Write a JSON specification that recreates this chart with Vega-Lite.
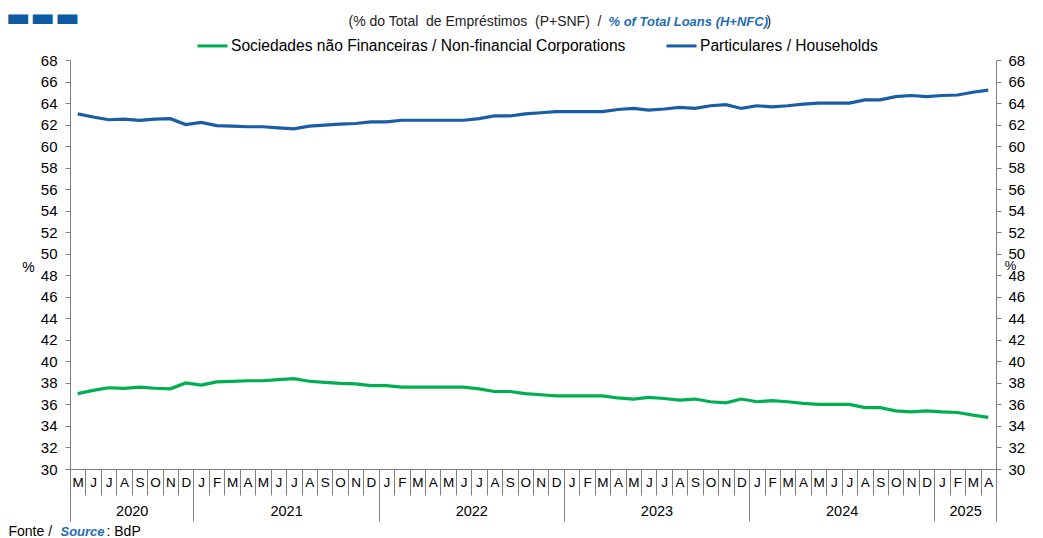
{
  "$schema": "https://vega.github.io/schema/vega-lite/v6.json",
  "width": 926,
  "height": 409,
  "autosize": {"type": "none"},
  "padding": {"left": 70, "top": 60, "right": 47, "bottom": 69},
  "background": "white",
  "title": {"text": "▬▬▬", "anchor": "start", "frame": "group", "orient": "top", "offset": 0, "dx": -64, "dy": 17, "fontSize": 26, "font": "DejaVu Sans", "color": "#0B5AA2", "fontWeight": "normal"},
  "datasets": {
    "loans": [
      {"month": "2020-05", "hh": 63.0, "nfc": 37.0},
      {"month": "2020-06", "hh": 62.7, "nfc": 37.3},
      {"month": "2020-07", "hh": 62.45, "nfc": 37.55},
      {"month": "2020-08", "hh": 62.5, "nfc": 37.5},
      {"month": "2020-09", "hh": 62.4, "nfc": 37.6},
      {"month": "2020-10", "hh": 62.5, "nfc": 37.5},
      {"month": "2020-11", "hh": 62.55, "nfc": 37.45},
      {"month": "2020-12", "hh": 62.0, "nfc": 38.0},
      {"month": "2021-01", "hh": 62.2, "nfc": 37.8},
      {"month": "2021-02", "hh": 61.9, "nfc": 38.1},
      {"month": "2021-03", "hh": 61.85, "nfc": 38.15},
      {"month": "2021-04", "hh": 61.8, "nfc": 38.2},
      {"month": "2021-05", "hh": 61.8, "nfc": 38.2},
      {"month": "2021-06", "hh": 61.7, "nfc": 38.3},
      {"month": "2021-07", "hh": 61.6, "nfc": 38.4},
      {"month": "2021-08", "hh": 61.85, "nfc": 38.15},
      {"month": "2021-09", "hh": 61.95, "nfc": 38.05},
      {"month": "2021-10", "hh": 62.05, "nfc": 37.95},
      {"month": "2021-11", "hh": 62.1, "nfc": 37.9},
      {"month": "2021-12", "hh": 62.25, "nfc": 37.75},
      {"month": "2022-01", "hh": 62.25, "nfc": 37.75},
      {"month": "2022-02", "hh": 62.4, "nfc": 37.6},
      {"month": "2022-03", "hh": 62.4, "nfc": 37.6},
      {"month": "2022-04", "hh": 62.4, "nfc": 37.6},
      {"month": "2022-05", "hh": 62.4, "nfc": 37.6},
      {"month": "2022-06", "hh": 62.4, "nfc": 37.6},
      {"month": "2022-07", "hh": 62.55, "nfc": 37.45},
      {"month": "2022-08", "hh": 62.8, "nfc": 37.2},
      {"month": "2022-09", "hh": 62.8, "nfc": 37.2},
      {"month": "2022-10", "hh": 63.0, "nfc": 37.0},
      {"month": "2022-11", "hh": 63.1, "nfc": 36.9},
      {"month": "2022-12", "hh": 63.2, "nfc": 36.8},
      {"month": "2023-01", "hh": 63.2, "nfc": 36.8},
      {"month": "2023-02", "hh": 63.2, "nfc": 36.8},
      {"month": "2023-03", "hh": 63.2, "nfc": 36.8},
      {"month": "2023-04", "hh": 63.4, "nfc": 36.6},
      {"month": "2023-05", "hh": 63.5, "nfc": 36.5},
      {"month": "2023-06", "hh": 63.35, "nfc": 36.65},
      {"month": "2023-07", "hh": 63.45, "nfc": 36.55},
      {"month": "2023-08", "hh": 63.6, "nfc": 36.4},
      {"month": "2023-09", "hh": 63.5, "nfc": 36.5},
      {"month": "2023-10", "hh": 63.75, "nfc": 36.25},
      {"month": "2023-11", "hh": 63.85, "nfc": 36.15},
      {"month": "2023-12", "hh": 63.5, "nfc": 36.5},
      {"month": "2024-01", "hh": 63.75, "nfc": 36.25},
      {"month": "2024-02", "hh": 63.65, "nfc": 36.35},
      {"month": "2024-03", "hh": 63.75, "nfc": 36.25},
      {"month": "2024-04", "hh": 63.9, "nfc": 36.1},
      {"month": "2024-05", "hh": 64.0, "nfc": 36.0},
      {"month": "2024-06", "hh": 64.0, "nfc": 36.0},
      {"month": "2024-07", "hh": 64.0, "nfc": 36.0},
      {"month": "2024-08", "hh": 64.3, "nfc": 35.7},
      {"month": "2024-09", "hh": 64.3, "nfc": 35.7},
      {"month": "2024-10", "hh": 64.6, "nfc": 35.4},
      {"month": "2024-11", "hh": 64.7, "nfc": 35.3},
      {"month": "2024-12", "hh": 64.6, "nfc": 35.4},
      {"month": "2025-01", "hh": 64.7, "nfc": 35.3},
      {"month": "2025-02", "hh": 64.75, "nfc": 35.25},
      {"month": "2025-03", "hh": 65.0, "nfc": 35.0},
      {"month": "2025-04", "hh": 65.2, "nfc": 34.8}
    ],
    "years": [
      {"year": "2020", "start": 0, "mid": 4},
      {"year": "2021", "start": 8, "mid": 14},
      {"year": "2022", "start": 20, "mid": 26},
      {"year": "2023", "start": 32, "mid": 38},
      {"year": "2024", "start": 44, "mid": 50},
      {"year": "2025", "start": 56, "mid": 58}
    ]
  },
  "layer": [
    {
      "data": {"name": "loans"},
      "transform": [{"fold": ["nfc", "hh"], "as": ["series", "value"]}],
      "mark": {"type": "line", "strokeWidth": 3.2},
      "encoding": {
        "x": {
          "field": "month", "type": "ordinal", "bandPosition": 0.5,
          "scale": {"type": "band", "paddingInner": 0, "paddingOuter": 0},
          "axis": {
            "orient": "bottom", "tickBand": "extent", "tickSize": 26, "tickColor": "#808080", "domainColor": "#808080",
            "labelExpr": "isString(datum.value) ? ['J','F','M','A','M','J','J','A','S','O','N','D'][toNumber(substring(datum.value,5,7))-1] : ''",
            "labelAngle": 0, "labelBaseline": "middle", "labelAlign": "center", "labelPadding": -13, "labelFontSize": 13.5, "labelOverlap": false,
            "title": "Fonte /", "titleX": -62, "titleY": 62, "titleAlign": "left", "titleBaseline": "middle", "titleFontSize": 14
          }
        },
        "y": {
          "field": "value", "type": "quantitative",
          "scale": {"domain": [30, 68], "nice": false},
          "axis": {
            "orient": "left", "values": [30,32,34,36,38,40,42,44,46,48,50,52,54,56,58,60,62,64,66,68],
            "tickSize": 5, "labelPadding": 8, "labelFontSize": 15,
            "title": "%", "titleAngle": 0, "titleX": -42, "titleY": 207, "titleAlign": "center", "titleBaseline": "middle", "titleFontSize": 14
          }
        },
        "color": {
          "field": "series", "type": "nominal",
          "scale": {"domain": ["nfc", "hh"], "range": ["#00B050", "#1A5DA6"]},
          "legend": {
            "orient": "none", "legendX": 126, "legendY": -31, "direction": "horizontal", "columns": 2, "title": null,
            "symbolType": "stroke", "symbolSize": 900, "symbolStrokeWidth": 3, "labelFontSize": 15.6, "labelColor": "#000",
            "labelOffset": 2, "columnPadding": 34, "labelLimit": 600,
            "labelExpr": "datum.value === 'nfc' ? 'Sociedades não Financeiras / Non-financial Corporations' : 'Particulares / Households'"
          }
        }
      }
    },
    {
      "data": {"name": "loans"},
      "transform": [{"fold": ["nfc", "hh"], "as": ["series", "value"]}],
      "mark": {"type": "point", "opacity": 0},
      "encoding": {
        "x": {
          "field": "month", "type": "ordinal",
          "axis": {"orient": "top", "labels": false, "ticks": false, "domain": false,
            "title": "(% do Total\u00a0 de Empréstimos\u00a0 (P+SNF)\u00a0 /", "titleX": 278, "titleY": -39, "titleAlign": "left", "titleBaseline": "middle", "titleFontSize": 14, "titleColor": "#222222"}
        },
        "y": {
          "field": "value", "type": "quantitative",
          "scale": {"domain": [30, 68], "nice": false},
          "axis": {
            "orient": "right", "values": [30,32,34,36,38,40,42,44,46,48,50,52,54,56,58,60,62,64,66,68],
            "tickSize": 5, "labelPadding": 7, "labelFontSize": 15,
            "title": "%", "titleAngle": 0, "titleX": 14, "titleY": 205, "titleAlign": "center", "titleBaseline": "middle", "titleFontSize": 13
          }
        }
      }
    },
    {
      "data": {"name": "years"},
      "mark": {"type": "point", "opacity": 0},
      "encoding": {
        "x": {
          "field": "start", "type": "quantitative",
          "scale": {"domain": [0, 60], "nice": false, "zero": false},
          "axis": {"orient": "bottom", "values": [0, 8, 20, 32, 44, 56, 60], "tickSize": 52, "labels": false, "domain": false, "tickColor": "#808080",
            "title": "Source", "titleX": -10, "titleY": 62, "titleAlign": "left", "titleBaseline": "middle", "titleColor": "#1F6DB5", "titleFontWeight": "bold", "titleFontStyle": "italic", "titleFontSize": 13}
        },
        "y": {
          "datum": 50, "type": "quantitative",
          "scale": {"domain": [30, 68], "nice": false},
          "axis": {"orient": "left", "labels": false, "ticks": false, "domain": false,
            "title": "% of Total Loans (H+NFC)", "titleAngle": 0, "titleX": 538, "titleY": -39, "titleAlign": "left", "titleBaseline": "middle", "titleColor": "#1F6DB5", "titleFontWeight": "bold", "titleFontStyle": "italic", "titleFontSize": 13}
        }
      }
    },
    {
      "data": {"name": "years"},
      "mark": {"type": "point", "opacity": 0},
      "encoding": {
        "x": {
          "field": "mid", "type": "quantitative",
          "scale": {"domain": [0, 60], "nice": false, "zero": false},
          "axis": {"orient": "bottom", "values": [4, 14, 26, 38, 50, 58], "ticks": false, "tickSize": 0, "domain": false,
            "labelExpr": "'' + (floor((datum.value + 4) / 12) + 2020)", "labelBaseline": "middle", "labelAlign": "center", "labelPadding": 42, "labelFontSize": 14.5, "labelFlush": false, "labelOverlap": false,
            "title": ": BdP", "titleX": 36, "titleY": 62, "titleAlign": "left", "titleBaseline": "middle", "titleFontSize": 14}
        },
        "y": {
          "datum": 50, "type": "quantitative",
          "scale": {"domain": [30, 68], "nice": false},
          "axis": {"orient": "left", "labels": false, "ticks": false, "domain": false,
            "title": ")", "titleAngle": 0, "titleX": 696, "titleY": -39, "titleAlign": "left", "titleBaseline": "middle", "titleFontSize": 14, "titleColor": "#222222"}
        }
      }
    }
  ],
  "resolve": {
    "scale": {"x": "independent", "y": "independent"},
    "axis": {"x": "independent", "y": "independent"}
  },
  "config": {
    "font": "Liberation Sans",
    "view": {"stroke": null},
    "axis": {"grid": false, "labelFont": "Liberation Sans", "titleFont": "Liberation Sans", "labelColor": "#000000", "titleColor": "#000000", "titleFontWeight": "normal", "domainColor": "#808080", "tickColor": "#808080"},
    "legend": {"labelFont": "Liberation Sans"}
  }
}
